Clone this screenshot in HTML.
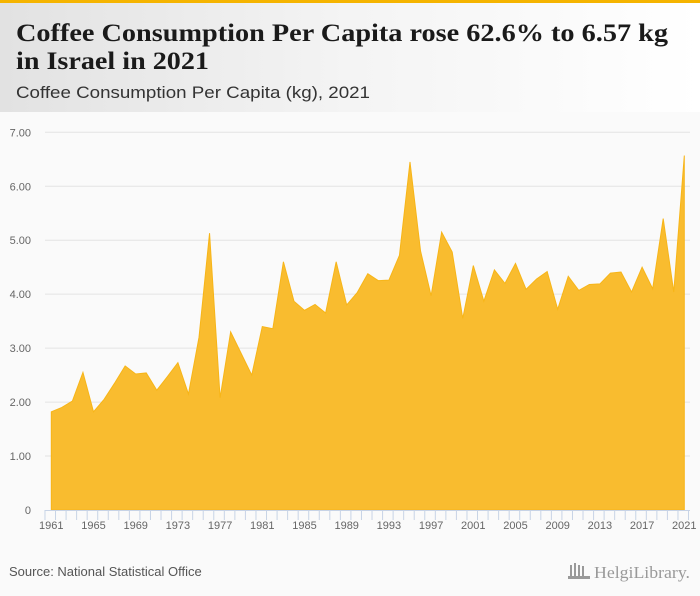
<!DOCTYPE html>
<html><head><meta charset="utf-8"><style>
body{margin:0;width:700px;height:596px;background:#fafafa;font-family:"Liberation Sans",sans-serif;overflow:hidden;position:relative}
#hdr{position:absolute;left:0;top:0;width:700px;height:112px;background:linear-gradient(90deg,#e2e2e2,#f4f4f4 50%,#fff)}
#bar{position:absolute;left:0;top:0;width:700px;height:3px;background:#f5b400}
</style></head><body>
<div id="hdr"></div>
<div id="bar"></div>
<svg width="700" height="596" style="position:absolute;left:0;top:0">
<text x="16" y="41" font-family="Liberation Serif,serif" font-weight="bold" font-size="25" fill="#1a1a1a" textLength="652" lengthAdjust="spacingAndGlyphs">Coffee Consumption Per Capita rose 62.6% to 6.57 kg</text>
<text x="16" y="69" font-family="Liberation Serif,serif" font-weight="bold" font-size="25" fill="#1a1a1a" textLength="193" lengthAdjust="spacingAndGlyphs">in Israel in 2021</text>
<text x="16" y="98" font-size="17" fill="#333" textLength="354" lengthAdjust="spacingAndGlyphs">Coffee Consumption Per Capita (kg), 2021</text>
<g id="chart"></g>
<text x="9" y="576" font-size="13" fill="#555">Source: National Statistical Office</text>
<g>
<rect x="570" y="565" width="2" height="12" fill="#999"/><rect x="574" y="563" width="2" height="14" fill="#999"/><rect x="578" y="565" width="2" height="12" fill="#999"/><rect x="582" y="566" width="2" height="11" fill="#999"/><rect x="568" y="576" width="22" height="3" fill="#999"/>
<text x="594" y="578" font-family="Liberation Serif,serif" font-size="17" fill="#999" textLength="96" lengthAdjust="spacingAndGlyphs">HelgiLibrary.</text>
</g>
</svg>
<script>
const years=[];for(let y=1961;y<=2021;y++)years.push(y);
const values=[1.82,1.9,2.02,2.55,1.82,2.05,2.35,2.67,2.52,2.54,2.22,2.47,2.73,2.15,3.2,5.13,2.08,3.3,2.9,2.5,3.4,3.36,4.6,3.87,3.7,3.81,3.65,4.6,3.8,4.03,4.38,4.25,4.26,4.72,6.45,4.8,3.97,5.15,4.78,3.55,4.53,3.87,4.45,4.2,4.57,4.09,4.28,4.42,3.72,4.33,4.07,4.18,4.19,4.39,4.41,4.04,4.5,4.1,5.4,4.04,6.57];
const yTicks=[0,1,2,3,4,5,6,7];
const yTickLabels=["0","1.00","2.00","3.00","4.00","5.00","6.00","7.00"];
const xTickYears=[1961,1965,1969,1973,1977,1981,1985,1989,1993,1997,2001,2005,2009,2013,2017,2021];
const X0=51.3,X1=684.3,Y0=510,Y1=132.3;
const xs=y=>X0+(y-1961)*(X1-X0)/60;
const ys=v=>Y0-v*(Y0-Y1)/7;
const NS="http://www.w3.org/2000/svg";
const g=document.getElementById('chart');
function mk(t,a){const e=document.createElementNS(NS,t);for(const k in a)e.setAttribute(k,a[k]);g.appendChild(e);return e;}
yTicks.forEach((v,i)=>{
 if(v>0){const l=mk('line',{x1:45,x2:690,y1:ys(v),y2:ys(v),stroke:'#e3e3e3','stroke-width':1});
 
 }
 const t=mk('text',{x:31,y:ys(v)+4,'font-size':11,fill:'#666','text-anchor':'end'});
 t.textContent=yTickLabels[i];
 
 
});
let d='M'+xs(years[0])+','+ys(0);
years.forEach((y,i)=>{d+=' L'+xs(y).toFixed(2)+','+ys(values[i]).toFixed(2);});
d+=' L'+xs(years[years.length-1])+','+ys(0)+'Z';
const area=mk('path',{d:d,fill:'#f9bc2f',stroke:'#f7b518','stroke-width':1});


const ax=mk('line',{x1:45,x2:690,y1:Y0+0.5,y2:Y0+0.5,stroke:'#c7d3e6','stroke-width':1});


for(let y=1960.4;y<=2022;y+=1){
 const x=xs(y);if(x<44||x>690)continue;
 const tk=mk('line',{x1:x,x2:x,y1:Y0,y2:Y0+10,stroke:'#c7d3e6','stroke-width':1});
 
 
}
xTickYears.forEach(y=>{
 const t=mk('text',{x:xs(y),y:529,'font-size':11,fill:'#666','text-anchor':'middle'});
 t.textContent=y;
 
 
});
</script>
</body></html>
